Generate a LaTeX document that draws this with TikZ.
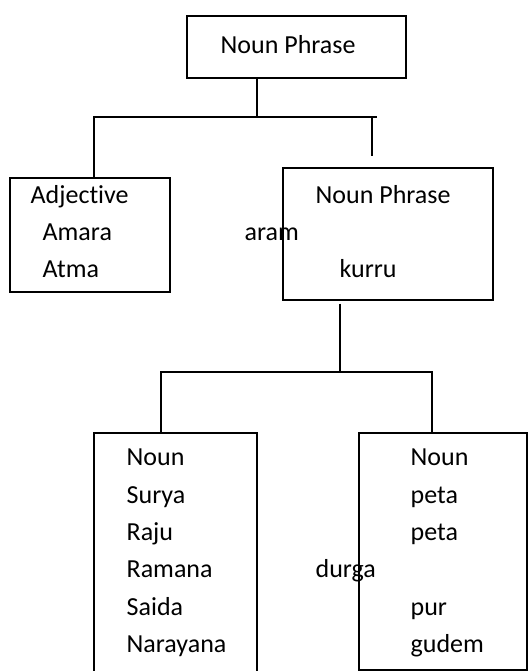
\documentclass[tikz,border=0pt]{standalone}
\usepackage{fontspec}
\setmainfont{Carlito}[Ligatures=NoCommon]
\usetikzlibrary{fit}

\begin{document}
\begin{tikzpicture}[x=0.75pt, y=-0.75pt, line width=1pt,
  box/.style={draw, inner sep=0pt},
  word/.style={anchor=base west, inner sep=0pt, font=\fontsize{19.5}{24}\selectfont}]

  % --- Frame ---
  \clip (0,0) rectangle (529,671);

  % --- Boxes ---
  \node[box, fit={(187,16) (406,78)}]   (NP)  {};
  \node[box, fit={(10,178) (170,292)}]  (Adj) {};
  \node[box, fit={(283,168) (493,300)}] (NP2) {};
  \node[box, fit={(94,433) (257,700)}]  (N)   {};
  \node[box, fit={(359,433) (527,670)}] (P)   {};

  % --- Top label ---
  \node[word] (np) at (220,53) {Noun Phrase};

  % --- Adjective ---
  \node[word] (adj)   at (30,203) {Adjective};
  \node[word] (amara) at (42,240) {Amara};
  \node[word] (atma)  at (42,277) {Atma};

  \node[word] (aram) at (244,240) {aram};

  % --- Noun phrase ---
  \node[word] (np2)   at (315,203) {Noun Phrase};
  \node[word] (kurru) at (339,277) {kurru};

  % --- Nouns ---
  \node[word] (n0) at (126,465) {Noun};
  \node[word] (n1) at (126,503) {Surya};
  \node[word] (n2) at (126,540) {Raju};
  \node[word] (n3) at (126,577) {Ramana};
  \node[word] (n4) at (126,615) {Saida};
  \node[word] (n5) at (126,652) {Narayana};

  \node[word] (durga) at (315,577) {durga};

  % --- Places ---
  \node[word] (p0) at (410,465) {Noun};
  \node[word] (p1) at (410,503) {peta};
  \node[word] (p2) at (410,540) {peta};
  \node[word] (p3) at (410,615) {pur};
  \node[word] (p4) at (410,652) {gudem};

  % --- Upper branch ---
  \coordinate (B1)  at (257,117);
  \coordinate (B1l) at (94,117);
  \coordinate (B1r) at (377,117);
  \coordinate (S)   at (372,156);
  \draw (NP.south -| B1) -- (B1);
  \draw (Adj.north -| B1l) -- (B1l) -- (B1r);
  \draw (S |- B1) -- (S);

  % --- Lower branch ---
  \coordinate (B2)  at (340,372);
  \coordinate (B2l) at (161,372);
  \coordinate (B2r) at (432,372);
  \draw[shorten <=2.2pt] (NP2.south -| B2) -- (B2);
  \draw (N.north -| B2l) -- (B2l) -- (B2r) -- (P.north -| B2r);

\end{tikzpicture}
\end{document}
